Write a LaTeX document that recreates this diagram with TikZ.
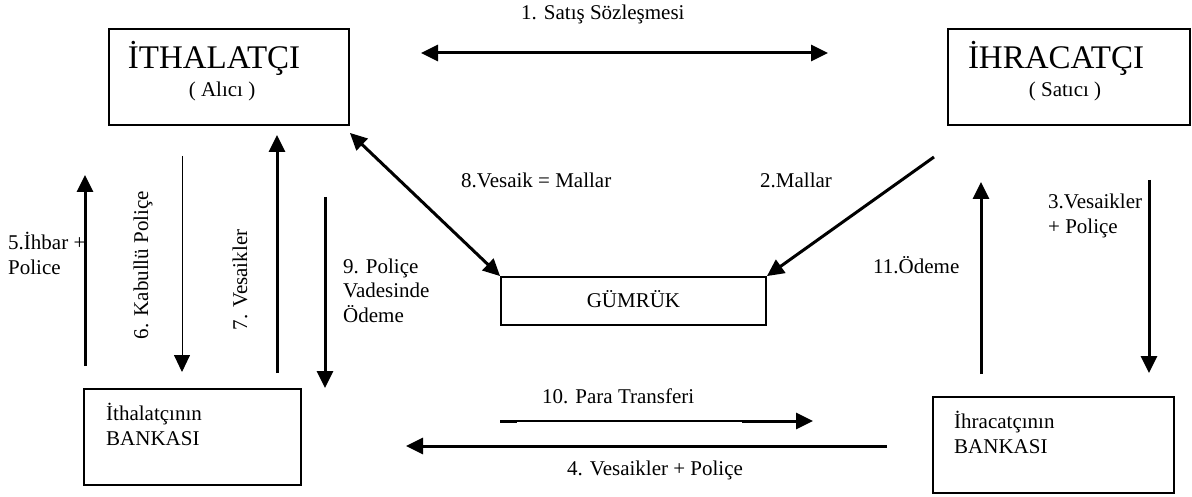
\documentclass[tikz,border=0pt]{standalone}
\usepackage{fontspec}
\setmainfont{Liberation Serif}
\usetikzlibrary{arrows.meta}
\usetikzlibrary{calc}
\newcommand{\basfont}{\fontsize{33}{36}\selectfont}

\begin{document}
\begin{tikzpicture}[line cap=butt,line join=miter,>={Triangle[length=17pt,width=16pt]},x=1pt,y=1pt,
        every node/.style={font=\fontsize{21}{25}\selectfont,inner sep=0pt},
        kutu/.style={draw,line width=1.8pt,minimum height=96pt},
        kalin/.style={line width=3pt,color=black}]
        \useasboundingbox (0,0) rectangle (1192,-497);
        % kutular
        \node [kutu,minimum width=240pt] (ithalatci) at (229,-77) {};
        \node [kutu,minimum width=242pt] (ihracatci) at (1069,-77) {};
        \node [kutu,minimum width=217pt] (ithbanka) at (192.5,-437) {};
        \node [kutu,minimum width=241pt] (ihrbanka) at (1053.5,-445) {};
        \node [kutu,minimum width=265pt,minimum height=48pt] (gumruk) at (633.5,-301) {};
        \draw[color=black] (214,-69) node[anchor=base,font=\basfont] (ithalatcibas) {İTHALATÇI};
        \draw[color=black] (222,-97) node[anchor=base] (alici) {( Alıcı )};
        \draw[color=black] (1056,-69) node[anchor=base,font=\basfont] (ihracatcibas) {İHRACATÇI};
        \draw[color=black] (1065,-97) node[anchor=base] (satici) {( Satıcı )};
        \draw[color=black] (106,-445) node[anchor=base west,align=left] (ithbankayazi) {İthalatçının\\BANKASI};
        \draw[color=black] (954,-453) node[anchor=base west,align=left] (ihrbankayazi) {İhracatçının\\BANKASI};
        \draw[color=black] (633.5,-308) node[anchor=base] (gumrukyazi) {GÜMRÜK};
        % ok uclari
        \coordinate (s1a) at (421,-53);
        \coordinate (s1b) at (828,-53);
        \coordinate (m2) at (934,-157);
        \coordinate (v3a) at (1149,-180);
        \coordinate (v3b) at (1149,-373);
        \coordinate (v4a) at (887,-446);
        \coordinate (v4b) at (406,-446);
        \coordinate (i5a) at (85,-366);
        \coordinate (i5b) at (85,-175);
        \coordinate (k6a) at (182,-156);
        \coordinate (k6b) at (182,-372);
        \coordinate (v7a) at (277,-373);
        \coordinate (v7b) at (277,-135);
        \coordinate (p9a) at (325,-197);
        \coordinate (p9b) at (325,-388);
        \coordinate (t10a) at (500,-421);
        \coordinate (t10b) at (742,-421);
        \coordinate (t10c) at (813,-421);
        \coordinate (o11a) at (981,-374);
        \coordinate (o11b) at (981,-182);
        % oklar
        \draw [kalin,<->] (s1a)-- (s1b);
        \draw [kalin,->] (m2)-- (gumruk.north east);
        \draw [kalin,->] (v3a)-- (v3b);
        \draw [kalin,->] (v4a)-- (v4b);
        \draw [kalin,->] (i5a)-- (i5b);
        \draw [line width=0.9pt,color=black,->] (k6a)-- (k6b);
        \draw [kalin,->] (v7a)-- (v7b);
        \draw [kalin,<->] ([yshift=-7pt]ithalatci.south east)-- (gumruk.north west);
        \draw [kalin,->] (p9a)-- (p9b);
        \draw [line width=1.3pt,color=black] (t10a)-- (t10b);
        \draw [kalin] (t10a)-- ++(17,0);
        \draw [kalin,->] (t10b)-- (t10c);
        \draw [kalin,->] (o11a)-- (o11b);
        % etiketler
        \draw[color=black] (521,-20) node[anchor=base west] (l1) {1. Satış Sözleşmesi};
        \draw[color=black] (760,-188) node[anchor=base west] (l2) {2.Mallar};
        \draw[color=black] (1048,-234) node[anchor=base west,align=left] (l3) {3.Vesaikler\\+ Poliçe};
        \draw[color=black] (567,-475) node[anchor=base west] (l4) {4. Vesaikler + Poliçe};
        \draw[color=black] (8,-275) node[anchor=base west,align=left] (l5) {5.İhbar +\\Police};
        \draw[color=black] (148,-265) node[anchor=base,rotate=90] (l6) {6. Kabullü Poliçe};
        \draw[color=black] (247,-280) node[anchor=base,rotate=90] (l7) {7. Vesaikler};
        \draw[color=black] (461,-188) node[anchor=base west] (l8) {8.Vesaik = Mallar};
        \draw[color=black] (343,-323) node[anchor=base west,align=left] (l9) {9. Poliçe\\Vadesinde\\Ödeme};
        \draw[color=black] (542,-403) node[anchor=base west] (l10) {10. Para Transferi};
        \draw[color=black] (873,-274) node[anchor=base west] (l11) {11.Ödeme};
    \end{tikzpicture}
\end{document}
